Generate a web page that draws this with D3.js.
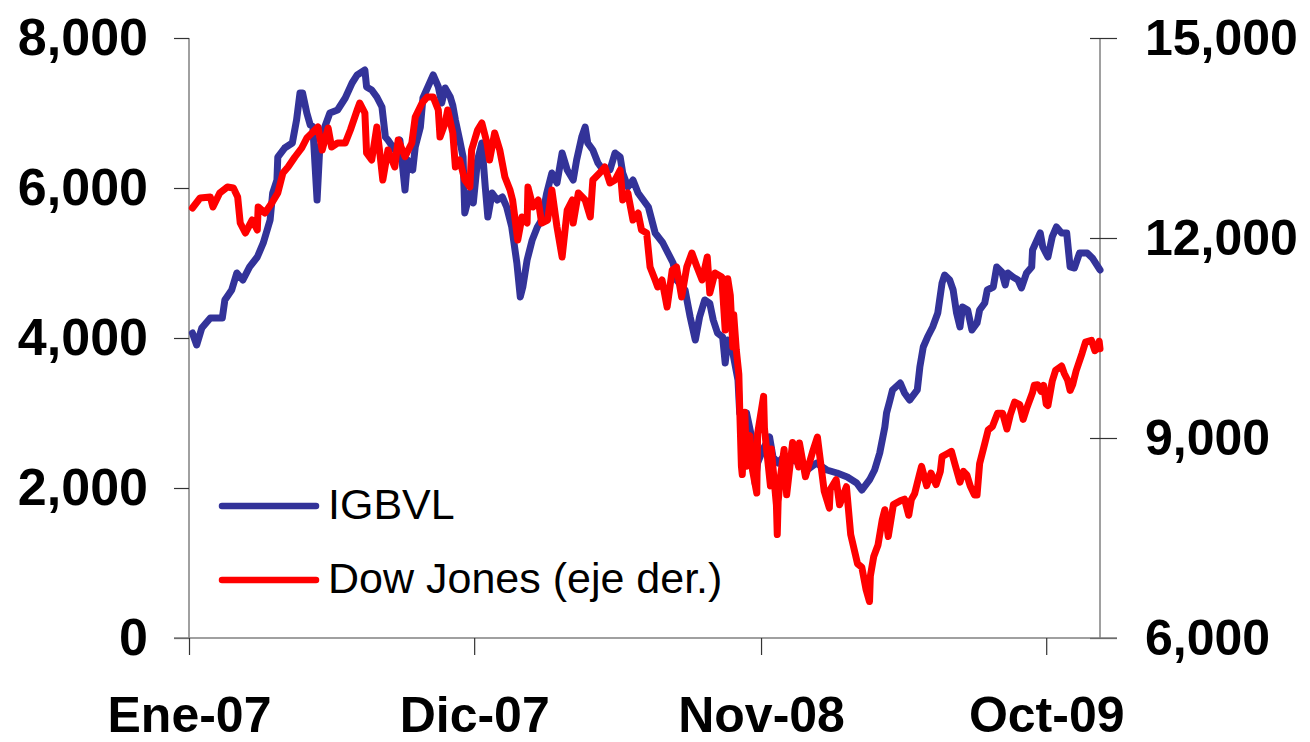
<!DOCTYPE html>
<html>
<head>
<meta charset="utf-8">
<script src="https://cdnjs.cloudflare.com/ajax/libs/d3/7.8.5/d3.min.js"></script>
<style>
  html, body { margin: 0; padding: 0; background: #fff; }
  svg { display: block; font-family: "Liberation Sans", Arial, sans-serif; }
</style>
</head>
<body>
<svg id="chart" width="1310" height="742"></svg>
<script>
// ---- Data (day = days since 1 Jan 2007) ----
const seriesNames = ["IGBVL", "Dow Jones (eje der.)"];
const xTickDates = ["2007-01-01", "2007-12-01", "2008-11-01", "2009-10-01"];
const xTickLabels = ["Ene-07", "Dic-07", "Nov-08", "Oct-09"];
const leftTicks = [0, 2000, 4000, 6000, 8000];
const rightTicks = [6000, 9000, 12000, 15000];

const igbvlDay = [4,9,15,25,39,42,50,56,63,71,80,87,95,98,103,104,112,121,126,130,133,138,142,145,150,153,159,165,174,183,191,197,206,208,214,220,226,230,233,241,247,253,256,262,265,271,274,286,292,296,300,306,309,312,317,321,323,329,333,338,343,347,350,355,361,367,372,378,384,388,391,396,402,408,413,419,425,431,437,443,450,454,460,464,467,473,479,485,493,499,505,508,514,520,526,532,538,546,555,561,567,571,581,587,593,598,604,610,614,619,625,628,631,637,643,645,653,659,663,666,672,680,684,690,696,707,716,724,735,747,759,771,782,788,797,803,809,815,817,821,824,833,838,844,853,856,860,865,871,877,882,885,891,895,899,903,906,912,917,923,926,932,935,942,946,952,956,959,965,971,975,981,987,988,997,1000,1006,1011,1016,1022,1028,1032,1037,1043,1052,1058,1067];
const igbvlValue = [4067,3907,4133,4267,4267,4507,4640,4867,4773,4947,5080,5267,5573,5933,6107,6413,6533,6600,6907,7267,7267,7000,6840,6820,5840,6507,6813,7000,7040,7200,7400,7507,7573,7347,7307,7213,7080,6680,6640,6507,6640,5973,6373,6240,6547,6813,7200,7507,7350,7133,7333,7213,7100,6907,6640,6413,5667,5933,5800,6373,6600,6013,5613,5933,5840,5880,5747,5480,5000,4547,4680,5040,5307,5480,5573,5933,6200,6067,6467,6240,6107,6373,6680,6813,6600,6507,6333,6240,6240,6467,6413,6200,6013,6107,5933,5840,5747,5400,5267,5133,5000,4773,4640,4280,3973,4280,4507,4460,4240,4067,4013,3667,3973,3800,3440,3000,3000,2680,2067,2333,2507,2680,2413,2333,2413,2373,2333,2240,2333,2240,2200,2147,2067,1973,2107,2240,2467,2813,3000,3173,3307,3400,3267,3173,3307,3613,3880,4013,4147,4333,4733,4840,4773,4640,4333,4147,4413,4373,4107,4200,4373,4467,4640,4680,4947,4880,4707,4867,4813,4773,4667,4867,4947,5173,5400,5213,5080,5347,5480,5400,5400,4947,4933,5133,5133,5067,4907];

const dowDay = [4,13,25,28,36,45,52,57,60,66,74,80,81,89,97,104,110,116,124,132,138,144,151,156,163,167,174,183,189,197,200,206,208,214,220,224,227,233,241,245,253,261,265,273,279,286,292,294,300,303,309,312,317,323,329,331,338,343,349,352,358,364,370,376,379,385,390,396,397,403,409,413,420,425,431,437,443,449,450,456,464,470,473,481,487,493,499,505,508,514,520,526,530,536,540,546,549,554,560,566,571,577,583,589,595,601,607,610,616,624,628,631,634,637,638,641,644,645,647,648,651,653,654,657,660,662,665,666,673,674,681,682,688,689,690,693,697,700,707,714,715,722,730,736,744,750,751,758,762,770,775,783,788,793,797,798,802,807,812,815,819,825,833,838,843,846,850,855,858,864,869,875,880,882,888,893,897,903,907,911,915,920,923,926,932,936,941,947,953,958,962,967,973,977,981,988,990,994,998,1001,1004,1006,1011,1015,1022,1025,1029,1032,1035,1039,1046,1050,1057,1061,1064,1066,1067];
const dowValue = [12450,12600,12615,12465,12675,12765,12750,12615,12225,12075,12270,12120,12465,12375,12525,12675,12975,13065,13215,13350,13500,13575,13665,13320,13650,13365,13425,13425,13620,13920,14025,13875,13275,13170,13665,13220,12870,13320,13065,13470,13220,13425,13815,14025,14115,14115,13920,13515,13725,13920,13575,13065,13170,12870,12765,13320,13620,13725,13425,13170,13575,13320,12915,12720,12570,11970,12315,12225,12765,12465,12570,12225,12270,12720,12165,11715,12420,12570,12225,12675,12570,12315,12870,12975,13065,12825,12870,13020,12570,12675,12270,12375,12120,12075,11565,11370,11265,11370,10965,11520,11565,11115,11565,11775,11565,11370,11715,11175,11475,11415,10620,11390,11140,10365,10850,10325,9955,9447,8579,8451,9387,8577,8979,9033,8519,8378,8175,9065,9625,9139,8282,8835,7997,7552,8046,8443,8829,8149,8934,8565,8924,8420,8776,9015,8200,7949,8228,8375,8000,8270,7552,7114,7062,6726,6547,6926,7223,7395,7775,7924,7522,8000,8057,8083,7841,8076,8168,8426,8574,8284,8475,8300,8500,8721,8764,8799,8612,8339,8500,8447,8280,8146,8146,8616,8915,9120,9171,9370,9370,9135,9350,9539,9500,9280,9441,9683,9791,9800,9700,9789,9509,9487,9850,10015,10080,9972,9870,9713,9800,10005,10270,10437,10465,10310,10345,10452,10340];

// ---- Layout ----
const svg = d3.select("#chart");
const plotLeft = 189, plotRight = 1100, plotTop = 38, plotBottom = 638;
const startDate = new Date(2007, 0, 1);
const parse = d3.timeParse("%Y-%m-%d");
const toDate = d => d3.timeDay.offset(startDate, d);

const x = d3.scaleTime().domain([startDate, new Date(2009, 11, 3)]).range([plotLeft, plotRight]);
const yL = d3.scaleLinear().domain([0, 8000]).range([plotBottom, plotTop]);
const yR = d3.scaleLinear().domain([6000, 15000]).range([plotBottom, plotTop]);
const fmt = d3.format(",");

// Axes
const axisColor = "#808080";
const gL = svg.append("g").attr("transform", `translate(${plotLeft},0)`)
  .call(d3.axisLeft(yL).tickValues(leftTicks).tickSize(15).tickPadding(26).tickFormat(fmt));
const gR = svg.append("g").attr("transform", `translate(${plotRight},0)`)
  .call(d3.axisRight(yR).tickValues(rightTicks).tickSize(17).tickPadding(28).tickFormat(fmt));
gR.selectAll(".tick line").attr("x1", -10);
const gB = svg.append("g").attr("transform", `translate(0,${plotBottom})`)
  .call(d3.axisBottom(x).tickValues(xTickDates.map(parse)).tickSize(17).tickPadding(41)
    .tickFormat((d, i) => xTickLabels[i]));

[gL, gR, gB].forEach(g => {
  g.select(".domain").attr("stroke", axisColor).attr("stroke-width", 1.5);
  g.selectAll(".tick line").attr("stroke", "#333").attr("stroke-width", 1.2);
  g.selectAll(".tick text").attr("fill", "#000").attr("font-weight", "bold")
    .attr("font-size", 50).attr("font-family", "'Liberation Sans', Arial, sans-serif");
});
gL.selectAll(".tick text").attr("font-size", 52);
gB.select(".domain").attr("d", `M${plotLeft - 15},0H${plotRight + 17}`);
gL.select(".domain").attr("d", `M0,${plotTop}V${plotBottom}`);
gR.select(".domain").attr("d", `M0,${plotTop}V${plotBottom}`);
gB.selectAll(".tick text").attr("dy", "0.71em");

// Lines
const lineL = d3.line().x(d => x(toDate(d[0]))).y(d => yL(d[1]));
const lineR = d3.line().x(d => x(toDate(d[0]))).y(d => yR(d[1]));
const blue = "#333399", red = "#FF0000";

svg.append("path").datum(igbvlDay.map((d, i) => [d, igbvlValue[i]]))
  .attr("d", lineL).attr("fill", "none").attr("stroke", blue)
  .attr("stroke-width", 7).attr("stroke-linejoin", "round").attr("stroke-linecap", "round");
svg.append("path").datum(dowDay.map((d, i) => [d, dowValue[i]]))
  .attr("d", lineR).attr("fill", "none").attr("stroke", red)
  .attr("stroke-width", 7).attr("stroke-linejoin", "round").attr("stroke-linecap", "round");

// Legend
const legend = svg.append("g");
[[blue, 506, 0], [red, 580, 1]].forEach(([c, yy, i]) => {
  legend.append("line").attr("x1", 222).attr("x2", 316).attr("y1", yy).attr("y2", yy)
    .attr("stroke", c).attr("stroke-width", 6.5).attr("stroke-linecap", "round");
  legend.append("text").attr("x", 328).attr("y", yy + 13)
    .attr("font-size", 43).attr("fill", "#000")
    .text(seriesNames[i]);
});
</script>
</body>
</html>
